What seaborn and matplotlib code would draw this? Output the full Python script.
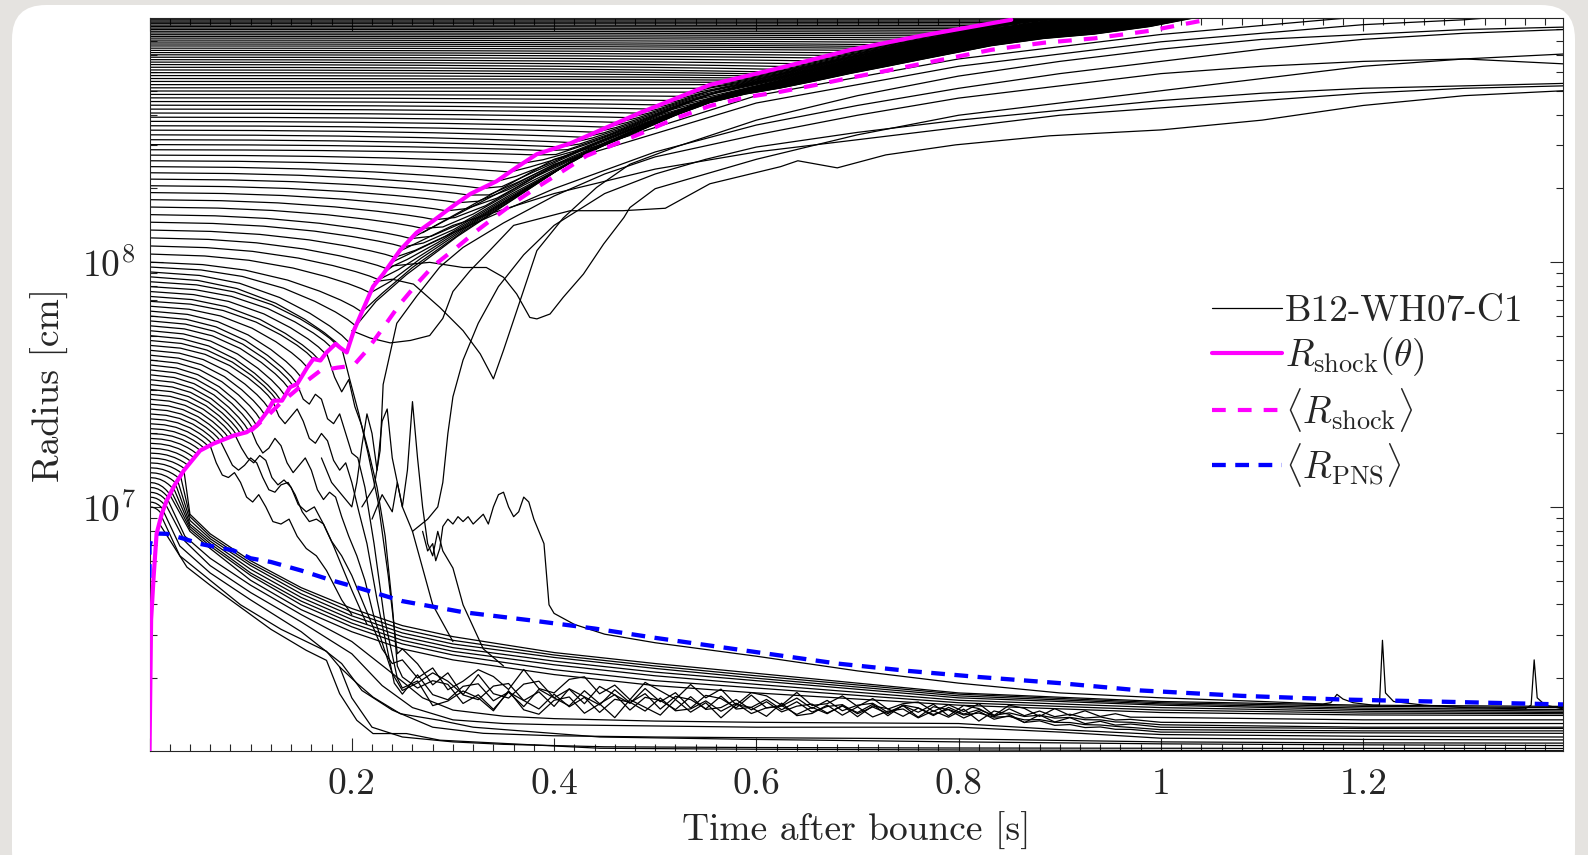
import numpy as np
import pandas as pd
import matplotlib
matplotlib.use("Agg")
import matplotlib.pyplot as plt
import seaborn as sns
from matplotlib.lines import Line2D
from matplotlib.patches import FancyBboxPatch
from matplotlib.ticker import MultipleLocator, LogLocator, FuncFormatter, NullFormatter

# all radii are log10(r / cm), times are seconds after bounce

# shock radius, one direction (solid magenta)
shock_t = [0.0, 0.0016, 0.004, 0.007, 0.012, 0.017, 0.025, 0.034, 0.05, 0.063, 0.083, 0.096, 0.106,
           0.116, 0.1225, 0.131, 0.139, 0.146, 0.156, 0.162, 0.169, 0.175, 0.184, 0.188, 0.195,
           0.202, 0.212, 0.221, 0.231, 0.248, 0.264, 0.281, 0.297, 0.317, 0.343, 0.363, 0.383,
           0.416, 0.485, 0.554, 0.624, 0.693, 0.762, 0.852]
shock_lr = [6.0, 6.54, 6.71, 6.89, 6.97, 7.026, 7.09, 7.149, 7.23, 7.258, 7.291, 7.305, 7.332,
            7.387, 7.434, 7.434, 7.489, 7.502, 7.570, 7.604, 7.598, 7.631, 7.666, 7.652, 7.631,
            7.72, 7.815, 7.90, 7.951, 8.05, 8.12, 8.17, 8.22, 8.278, 8.33, 8.387, 8.441,
            8.485, 8.61, 8.724, 8.794, 8.867, 8.924, 8.99]

# angle-averaged shock radius (dashed magenta)
mean_shock_t = [0.10, 0.117, 0.129, 0.141, 0.156, 0.169, 0.186, 0.2016, 0.2148, 0.2312, 0.2477,
                0.2643, 0.2807, 0.3038, 0.3236, 0.3434, 0.363, 0.383, 0.409, 0.432, 0.485, 0.52,
                0.554, 0.589, 0.624, 0.659, 0.693, 0.728, 0.763, 0.797, 0.832, 0.884, 0.934,
                0.989, 1.045]
mean_shock_lr = [7.31, 7.373, 7.422, 7.463, 7.516, 7.557, 7.569, 7.577, 7.639, 7.733, 7.829,
                 7.911, 7.985, 8.06, 8.128, 8.19, 8.25, 8.305, 8.373, 8.434, 8.524, 8.587,
                 8.638, 8.673, 8.696, 8.724, 8.753, 8.781, 8.81, 8.838, 8.867, 8.896, 8.914,
                 8.945, 8.99]

# angle-averaged proto-neutron-star radius (dashed blue)
pns_t = [0.0, 0.0, 0.003, 0.009, 0.017, 0.034, 0.05, 0.083, 0.10, 0.12, 0.15, 0.18, 0.21, 0.25,
         0.31, 0.38, 0.44, 0.50, 0.56, 0.62, 0.68, 0.75, 0.82, 0.90, 0.98, 1.08, 1.18, 1.29, 1.3975]
pns_lr = [6.71, 6.84, 6.885, 6.891, 6.89, 6.87, 6.849, 6.822, 6.79, 6.775, 6.74, 6.70, 6.665,
          6.615, 6.57, 6.535, 6.503, 6.465, 6.43, 6.395, 6.36, 6.33, 6.305, 6.28, 6.25, 6.228,
          6.213, 6.203, 6.193]

# mass shells: radius at bounce
fan_lr0 = [7.00, 7.02, 7.04, 7.06, 7.08, 7.10, 7.12, 7.14, 7.16, 7.18, 7.20, 7.22, 7.24, 7.26,
           7.28, 7.30, 7.32, 7.34, 7.36, 7.38, 7.40, 7.42, 7.44, 7.46, 7.48, 7.50, 7.52, 7.54,
           7.56, 7.58, 7.60, 7.62, 7.64, 7.66, 7.68, 7.70, 7.72, 7.74, 7.76, 7.78, 7.80, 7.82,
           7.84, 7.86, 7.88, 7.90, 7.92, 7.94, 7.96, 7.98,
           8.000, 8.033, 8.066, 8.099, 8.131, 8.163, 8.194, 8.225, 8.255, 8.284, 8.312, 8.339,
           8.365, 8.390, 8.414, 8.437, 8.459, 8.480, 8.500, 8.520, 8.539, 8.557, 8.575, 8.592,
           8.609, 8.625, 8.641, 8.656, 8.671, 8.685, 8.699, 8.712, 8.725, 8.738, 8.750, 8.762,
           8.774, 8.785, 8.796, 8.807, 8.817, 8.827, 8.837, 8.847, 8.856, 8.865, 8.874, 8.883,
           8.891, 8.899, 8.907, 8.915, 8.922, 8.929, 8.936, 8.943, 8.950, 8.956, 8.962, 8.968,
           8.974, 8.980, 8.985, 8.990]

# when a shell starting at a given radius meets the shock
hit_lr0 = [7.0, 7.1, 7.3, 7.55, 7.8, 8.0, 8.1, 8.2, 8.35, 8.5, 8.65, 8.8, 8.9, 8.99]
hit_time = [0.012, 0.02, 0.05, 0.1, 0.15, 0.21, 0.235, 0.26, 0.32, 0.405, 0.50, 0.61, 0.72, 0.852]

# shape of the infall before the shock (fraction of hit time, fraction of total drop)
fall_x = [0.0, 0.25, 0.45, 0.65, 0.8, 0.9, 0.96, 1.0]
fall_d = [0.0, 0.05, 0.16, 0.36, 0.58, 0.76, 0.89, 1.0]

# shocked shells riding out: place inside the shocked layer (0 = mean shock, 1 = shock)
band_hit = [0.2, 0.3, 0.45, 0.6, 0.85]
band_frac = [0.15, 0.3, 0.5, 0.7, 0.9]
relax_dt = [0.0, 0.02, 0.05, 0.1, 0.2]
relax_w = [1.0, 0.6, 0.3, 0.1, 0.0]

# shells settling onto the proto-neutron star (smooth bundle)
bundle_t = [0.04, 0.06, 0.1, 0.15, 0.2, 0.25, 0.3, 0.4, 0.5, 0.6, 0.8, 1.0, 1.2, 1.3975]
bundle_hit_t = [0.020, 0.022, 0.024, 0.026, 0.028, 0.031, 0.034]
bundle_hit_lr = [7.05, 7.06, 7.075, 7.09, 7.105, 7.12, 7.149]
bundle_lr = [
    [6.90, 6.83, 6.70, 6.58, 6.49, 6.42, 6.375, 6.315, 6.27, 6.24, 6.19, 6.16, 6.15, 6.148],
    [6.91, 6.84, 6.72, 6.60, 6.51, 6.44, 6.395, 6.335, 6.29, 6.26, 6.20, 6.17, 6.158, 6.155],
    [6.92, 6.85, 6.73, 6.615, 6.525, 6.455, 6.41, 6.355, 6.31, 6.275, 6.21, 6.18, 6.165, 6.16],
    [6.93, 6.86, 6.745, 6.63, 6.54, 6.47, 6.425, 6.37, 6.325, 6.29, 6.22, 6.19, 6.172, 6.166],
    [6.945, 6.87, 6.76, 6.645, 6.555, 6.485, 6.44, 6.385, 6.34, 6.30, 6.228, 6.195, 6.178, 6.172],
    [6.96, 6.88, 6.77, 6.66, 6.57, 6.50, 6.455, 6.395, 6.35, 6.31, 6.235, 6.2, 6.185, 6.18],
    [6.97, 6.89, 6.78, 6.67, 6.585, 6.515, 6.47, 6.405, 6.36, 6.32, 6.24, 6.205, 6.19, 6.185],
]

# innermost shells
deep_tracks = [
    ([0.010, 0.037, 0.06, 0.09, 0.12, 0.155, 0.175, 0.188, 0.205, 0.221, 0.254, 0.287, 0.32,
      0.445, 0.6, 0.8, 1.0, 1.3975],
     [6.93, 6.754, 6.68, 6.59, 6.50, 6.414, 6.373, 6.237, 6.128, 6.074, 6.074, 6.047, 6.04,
      6.014, 6.01, 6.007, 6.005, 6.004]),
    ([0.012, 0.03, 0.06, 0.09, 0.13, 0.175, 0.188, 0.205, 0.221, 0.248, 0.287, 0.32, 0.445,
      0.6, 0.8, 1.0, 1.2, 1.3975],
     [6.96, 6.80, 6.70, 6.60, 6.50, 6.41, 6.346, 6.28, 6.223, 6.155, 6.128, 6.10, 6.06, 6.05,
      6.04, 6.032, 6.028, 6.025]),
    ([0.188, 0.2, 0.22, 0.25, 0.3, 0.35, 0.45, 0.6, 0.8, 1.0, 1.3975],
     [6.346, 6.22, 6.1, 6.06, 6.04, 6.03, 6.02, 6.017, 6.015, 6.014, 6.013]),
    ([0.014, 0.03, 0.06, 0.1, 0.15, 0.19, 0.21, 0.24, 0.28, 0.33, 0.4, 0.5, 0.6, 0.8, 1.0,
      1.2, 1.3975],
     [6.98, 6.84, 6.73, 6.62, 6.49, 6.36, 6.25, 6.17, 6.10, 6.075, 6.065, 6.06, 6.057, 6.052,
      6.04, 6.036, 6.035]),
    ([0.016, 0.035, 0.06, 0.1, 0.15, 0.2, 0.23, 0.26, 0.3, 0.35, 0.4, 0.5, 0.6, 0.8, 0.9,
      1.0, 1.2, 1.3975],
     [7.01, 6.86, 6.76, 6.65, 6.53, 6.40, 6.27, 6.18, 6.13, 6.115, 6.11, 6.105, 6.1, 6.1,
      6.08, 6.055, 6.05, 6.048]),
    ([0.018, 0.035, 0.06, 0.1, 0.15, 0.2, 0.24, 0.27, 0.3, 0.35, 0.4, 0.5, 0.6, 0.8, 0.9,
      1.0, 1.2, 1.3975],
     [7.03, 6.88, 6.79, 6.68, 6.56, 6.45, 6.32, 6.22, 6.17, 6.145, 6.135, 6.125, 6.12, 6.115,
      6.09, 6.07, 6.063, 6.06]),
]

# shells falling through the stalled, sloshing shock
sasi_tracks = [
    ([0.07, 0.076, 0.082, 0.088, 0.094, 0.1, 0.106, 0.112, 0.118, 0.124, 0.13, 0.137, 0.144,
      0.151, 0.158, 0.165, 0.172, 0.18, 0.19, 0.2, 0.21, 0.22, 0.23, 0.24],
     [7.27, 7.22, 7.17, 7.15, 7.17, 7.2, 7.18, 7.12, 7.07, 7.06, 7.09, 7.1, 7.05, 6.98, 6.94,
      6.95, 6.93, 6.86, 6.8, 6.72, 6.62, 6.52, 6.42, 6.36]),
    ([0.1, 0.106, 0.112, 0.118, 0.124, 0.13, 0.136, 0.142, 0.148, 0.154, 0.16, 0.166, 0.172,
      0.178, 0.184, 0.19, 0.197, 0.205, 0.213, 0.222, 0.232, 0.24],
     [7.32, 7.26, 7.22, 7.24, 7.28, 7.25, 7.18, 7.14, 7.17, 7.2, 7.15, 7.07, 7.03, 7.06, 7.04,
      6.96, 6.88, 6.8, 6.7, 6.55, 6.42, 6.32]),
    ([0.122, 0.128, 0.134, 0.14, 0.146, 0.152, 0.158, 0.164, 0.17, 0.176, 0.182, 0.188, 0.194,
      0.2, 0.207, 0.215, 0.225, 0.235, 0.242],
     [7.43, 7.37, 7.34, 7.37, 7.4, 7.35, 7.28, 7.26, 7.3, 7.27, 7.19, 7.15, 7.18, 7.1, 6.98,
      6.85, 6.62, 6.42, 6.28]),
    ([0.146, 0.152, 0.158, 0.164, 0.17, 0.176, 0.182, 0.188, 0.194, 0.2, 0.206, 0.213, 0.222,
      0.232, 0.245],
     [7.50, 7.44, 7.42, 7.46, 7.44, 7.36, 7.34, 7.38, 7.3, 7.22, 7.2, 7.08, 6.85, 6.55, 6.3]),
    ([0.175, 0.183, 0.19, 0.197, 0.203, 0.21, 0.217, 0.225, 0.233, 0.24, 0.245],
     [7.63, 7.53, 7.47, 7.52, 7.41, 7.33, 7.22, 7.08, 6.88, 6.6, 6.35]),
    ([0.19, 0.198, 0.207, 0.216, 0.226, 0.236, 0.245],
     [7.65, 7.52, 7.38, 7.22, 7.02, 6.72, 6.4]),
]
# their later, convective part
conv_base_t = [0.25, 0.3, 0.4, 0.5, 0.6, 0.7, 0.8, 0.9, 1.0, 1.2, 1.3975]
conv_base_lr = [
    [6.33, 6.30, 6.28, 6.25, 6.22, 6.20, 6.18, 6.16, 6.14, 6.13, 6.13],
    [6.30, 6.27, 6.25, 6.22, 6.20, 6.185, 6.17, 6.15, 6.12, 6.115, 6.115],
    [6.27, 6.25, 6.22, 6.20, 6.185, 6.175, 6.165, 6.14, 6.11, 6.10, 6.10],
    [6.28, 6.21, 6.19, 6.18, 6.17, 6.163, 6.155, 6.13, 6.10, 6.095, 6.095],
    [6.33, 6.23, 6.20, 6.19, 6.175, 6.168, 6.16, 6.12, 6.09, 6.085, 6.085],
    [6.38, 6.26, 6.23, 6.21, 6.19, 6.175, 6.16, 6.11, 6.08, 6.077, 6.075],
]
conv_t = [0.25, 0.265, 0.28, 0.295, 0.31, 0.325, 0.34, 0.355, 0.37, 0.385, 0.40, 0.415, 0.43,
          0.445, 0.46, 0.475, 0.49, 0.505, 0.52, 0.535, 0.55, 0.565, 0.58, 0.595, 0.61, 0.625,
          0.64, 0.655, 0.67, 0.685, 0.70, 0.715, 0.73, 0.745, 0.76, 0.775, 0.79, 0.805, 0.82,
          0.835, 0.85, 0.865, 0.88, 0.895, 0.91, 0.925, 0.94, 0.955, 0.97]
conv_wiggle = [0.045, -0.02, 0.03, -0.05, -0.01, 0.04, 0.015, -0.035, 0.05, -0.025, -0.04,
               0.02, 0.035, -0.03, 0.01, -0.045, 0.03, 0.0, -0.03, 0.035, -0.015, 0.025,
               -0.035, 0.02, 0.01, -0.025, 0.03, -0.02, -0.01, 0.025, -0.015, 0.02, -0.02,
               0.005, 0.015, -0.02, 0.01, -0.015, 0.02, -0.025, 0.02, 0.01, -0.02, 0.015,
               -0.01, 0.012, -0.008, 0.006, -0.005, 0.004, -0.004, 0.003, -0.002, 0.002,
               -0.002, 0.001, 0.0, 0.0, 0.0, 0.0]
conv_shift = [0, 3, 7, 1, 9, 5]

# spiky shells near 1e7 cm, one later sitting just under the PNS radius
spiky_tracks = [
    ([0.27, 0.275, 0.28, 0.283, 0.287, 0.29, 0.295, 0.30, 0.305, 0.31, 0.315, 0.32, 0.325, 0.33,
      0.335, 0.34, 0.345, 0.35, 0.355, 0.36, 0.365, 0.37, 0.375, 0.38, 0.385, 0.39, 0.395, 0.40,
      0.42, 0.45, 0.5, 0.6, 0.7, 0.8, 0.9, 1.0, 1.1, 1.16, 1.168, 1.174, 1.18, 1.19, 1.21,
      1.216, 1.219, 1.222, 1.23, 1.26, 1.3, 1.36, 1.366, 1.369, 1.372, 1.38, 1.3975],
     [6.9, 6.82, 6.85, 6.78, 6.83, 6.92, 6.95, 6.93, 6.96, 6.94, 6.96, 6.93, 6.95, 6.97, 6.93,
      7.0, 7.05, 7.06, 7.0, 6.96, 6.98, 7.04, 7.02, 6.95, 6.9, 6.85, 6.6, 6.565, 6.52, 6.48,
      6.445, 6.39, 6.33, 6.28, 6.24, 6.22, 6.205, 6.195, 6.2, 6.234, 6.215, 6.2, 6.19, 6.19,
      6.455, 6.24, 6.205, 6.19, 6.18, 6.175, 6.19, 6.375, 6.22, 6.19, 6.175]),
    ([0.22, 0.23, 0.24, 0.245, 0.25, 0.255, 0.26, 0.265, 0.27, 0.275, 0.28, 0.285, 0.29, 0.3,
      0.31, 0.33, 0.35],
     [6.95, 7.05, 6.98, 7.1, 7.0, 7.15, 7.43, 7.2, 7.0, 6.85, 6.8, 6.9, 6.82, 6.75, 6.6, 6.42,
      6.35]),
    ([0.17, 0.18, 0.19, 0.2, 0.205, 0.21, 0.215, 0.22, 0.225, 0.23, 0.235, 0.24, 0.25, 0.26,
      0.27, 0.28, 0.3],
     [7.2, 7.1, 7.05, 7.0, 7.1, 7.25, 7.38, 7.3, 7.15, 7.35, 7.4, 7.2, 7.0, 6.9, 6.75, 6.6,
      6.45]),
    ([0.06, 0.066, 0.072, 0.078, 0.084, 0.09, 0.096, 0.102, 0.108, 0.115, 0.122, 0.13, 0.138,
      0.146, 0.155, 0.165, 0.175, 0.19, 0.2],
     [7.25, 7.18, 7.13, 7.12, 7.14, 7.1, 7.04, 7.02, 7.05, 7.0, 6.94, 6.93, 6.95, 6.88, 6.83,
      6.8, 6.74, 6.62, 6.56]),
    ([0.085, 0.091, 0.097, 0.103, 0.109, 0.115, 0.121, 0.127, 0.133, 0.14, 0.147, 0.155, 0.163,
      0.172, 0.182, 0.192, 0.2, 0.215],
     [7.29, 7.24, 7.2, 7.18, 7.21, 7.19, 7.12, 7.09, 7.11, 7.08, 7.01, 6.98, 7.0, 6.93, 6.84,
      6.74, 6.66, 6.52]),
]

# shells that dip back and are then blown out
ejecta_tracks = [
    ([0.222, 0.24, 0.261, 0.287, 0.31, 0.327, 0.34, 0.35, 0.363, 0.383, 0.409, 0.442, 0.475,
      0.52, 0.6, 0.7, 0.8, 0.9, 1.0, 1.1, 1.2, 1.3, 1.3975],
     [7.92, 7.93, 7.91, 7.815, 7.72, 7.625, 7.523, 7.64, 7.80, 8.047, 8.18, 8.305, 8.40, 8.47,
      8.58, 8.68, 8.76, 8.82, 8.87, 8.91, 8.93, 8.95, 8.96]),
    ([0.233, 0.241, 0.277, 0.31, 0.333, 0.35, 0.363, 0.376, 0.383, 0.396, 0.409, 0.429, 0.449,
      0.469, 0.475, 0.5, 0.55, 0.6, 0.7, 0.8, 0.9, 1.0, 1.1, 1.2, 1.3, 1.3975],
     [7.96, 7.985, 7.999, 7.978, 7.978, 7.938, 7.87, 7.774, 7.768, 7.788, 7.856, 7.951, 8.074,
      8.182, 8.223, 8.30, 8.36, 8.42, 8.52, 8.6, 8.65, 8.7, 8.75, 8.8, 8.83, 8.85]),
    ([0.2, 0.218, 0.238, 0.258, 0.277, 0.29, 0.30, 0.317, 0.337, 0.36, 0.416, 0.468, 0.51,
      0.554, 0.624, 0.641, 0.68, 0.728, 0.797, 0.89, 1.0, 1.1, 1.2, 1.3, 1.3975],
     [7.72, 7.69, 7.67, 7.68, 7.70, 7.77, 7.88, 7.965, 8.05, 8.15, 8.21, 8.21, 8.22, 8.32,
      8.39, 8.414, 8.385, 8.438, 8.479, 8.516, 8.54, 8.58, 8.64, 8.68, 8.70]),
    ([0.26, 0.275, 0.285, 0.29, 0.295, 0.30, 0.31, 0.325, 0.345, 0.37, 0.4, 0.45, 0.5, 0.55,
      0.6, 0.7, 0.8, 0.9, 1.0, 1.1, 1.2, 1.3, 1.3975],
     [6.9, 6.95, 7.0, 7.1, 7.3, 7.45, 7.6, 7.75, 7.9, 8.03, 8.15, 8.28, 8.36, 8.42, 8.47,
      8.53, 8.58, 8.62, 8.66, 8.69, 8.71, 8.72, 8.73]),
    ([0.21, 0.222, 0.228, 0.231, 0.2445, 0.264, 0.287, 0.31, 0.35, 0.4, 0.45, 0.5, 0.6, 0.7,
      0.8, 0.9, 1.0, 1.1, 1.2, 1.3, 1.3975],
     [7.0, 7.08, 7.23, 7.5, 7.75, 7.86, 7.98, 8.06, 8.16, 8.27, 8.36, 8.43, 8.52, 8.6, 8.67,
      8.72, 8.77, 8.8, 8.82, 8.83, 8.81]),
    ([0.24, 0.3, 0.4, 0.5, 0.6, 0.7, 0.8, 0.9, 1.0, 1.1, 1.2, 1.3, 1.3975],
     [8.0, 8.12, 8.3, 8.45, 8.56, 8.64, 8.71, 8.77, 8.82, 8.87, 8.91, 8.935, 8.95]),
    ([0.25, 0.3, 0.4, 0.5, 0.6, 0.7, 0.8, 0.9, 1.0, 1.1, 1.2, 1.3, 1.3975],
     [8.05, 8.15, 8.28, 8.38, 8.45, 8.5, 8.55, 8.6, 8.63, 8.66, 8.69, 8.71, 8.72]),
    ([0.26, 0.4, 0.6, 0.8, 1.0, 1.2, 1.3, 1.36],
     [8.1, 8.4, 8.65, 8.8, 8.9, 8.97, 8.99, 9.01]),
    ([0.27, 0.4, 0.6, 0.8, 1.0, 1.15, 1.22],
     [8.12, 8.42, 8.68, 8.83, 8.93, 8.985, 9.01]),
]

# ---------------------------------------------------------------------------
rows = []
def add(t, lr):
    uid = rows[-1][0] + 1 if rows else 0
    for a, b in zip(t, lr):
        rows.append((uid, a, 10.0 ** b))

for lr0 in fan_lr0:
    th = float(np.interp(lr0, hit_lr0, hit_time))
    lh = float(np.interp(th, shock_t, shock_lr))
    t_pre = [x * th for x in fall_x]
    lr_pre = [lr0 + (lh - lr0) * d for d in fall_d]
    if th >= 0.2:
        frac = float(np.interp(th, band_hit, band_frac))
        ts = [th + d for d in relax_dt[1:]] + [t for t in mean_shock_t if t > th + relax_dt[-1]]
        ts = np.array([t for t in ts if t <= mean_shock_t[-1]])
        tc = np.minimum(ts, shock_t[-1])
        gap = np.interp(tc, shock_t, shock_lr) - np.interp(tc, mean_shock_t, mean_shock_lr)
        f = frac + (1 - frac) * np.interp(ts - th, relax_dt, relax_w)
        lr_post = np.interp(ts, mean_shock_t, mean_shock_lr) + f * gap
        add(t_pre + list(ts), lr_pre + list(lr_post))
    else:
        add(t_pre, lr_pre)

for th, lh, lrs in zip(bundle_hit_t, bundle_hit_lr, bundle_lr):
    add([th] + bundle_t, [lh] + lrs)

for t, lr in deep_tracks + spiky_tracks + ejecta_tracks:
    add(t, lr)

for (t, lr), base, k in zip(sasi_tracks, conv_base_lr, conv_shift):
    wig = conv_wiggle[k:k + len(conv_t)]
    lr_c = np.interp(conv_t, conv_base_t, base) + np.array(wig)
    late_t = [x for x in conv_base_t if x > conv_t[-1]]
    late_lr = [y for x, y in zip(conv_base_t, base) if x > conv_t[-1]]
    add(list(t) + conv_t + late_t, list(lr) + list(lr_c) + late_lr)

df = pd.DataFrame(rows, columns=["shell", "t", "r"])

# ---------------------------------------------------------------------------
sns.set_style("ticks")
plt.rcParams["font.family"] = ["cmr10", "DejaVu Serif"]
plt.rcParams["mathtext.fontset"] = "cm"
plt.rcParams["axes.formatter.use_mathtext"] = True
plt.rcParams["axes.unicode_minus"] = False

fig = plt.figure(figsize=(15.88, 8.55), dpi=100)
fig.patch.set_facecolor("#e5e3e0")
fig.add_artist(FancyBboxPatch((12, -30), 1563, 880, boxstyle="round,pad=0,rounding_size=34",
                              transform=None, fc="white", ec="none", zorder=-10))
ax = fig.add_axes([149.5 / 1588, 1 - 750.7 / 855, (1563 - 149.5) / 1588, (750.7 - 18.3) / 855])

sns.lineplot(data=df, x="t", y="r", units="shell", estimator=None, sort=False,
             color="black", lw=0.9, ax=ax, legend=False, solid_joinstyle="round")

ax.plot(pns_t, 10.0 ** np.array(pns_lr), color="#0000ff", lw=3.1, dashes=(3.2, 2.2), zorder=5)
ax.plot(mean_shock_t, 10.0 ** np.array(mean_shock_lr), color="#ff00ff", lw=3.0,
        dashes=(3.3, 2.9), zorder=6)
ax.plot(shock_t, 10.0 ** np.array(shock_lr), color="#ff00ff", lw=3.0, zorder=7)

ax.set_yscale("log")
ax.set_xlim(0, 1.3975)
ax.set_ylim(10 ** 6.004, 10 ** 8.996)

ax.xaxis.set_major_locator(MultipleLocator(0.2))
ax.xaxis.set_minor_locator(MultipleLocator(0.02))
ax.xaxis.set_major_formatter(FuncFormatter(lambda v, p: "" if v < 0.01 else f"{v:g}"))
ax.yaxis.set_major_locator(LogLocator(base=10))
ax.yaxis.set_minor_locator(LogLocator(base=10, subs=np.arange(2, 10)))
ax.yaxis.set_minor_formatter(NullFormatter())
ax.tick_params(which="both", direction="in", top=True, right=True, width=0.8,
               colors="#262626", labelsize=27)
ax.tick_params(which="major", length=9.5)
ax.tick_params(which="minor", length=5)
ax.tick_params(axis="x", pad=12)
ax.tick_params(axis="y", pad=10)
for s in ax.spines.values():
    s.set_linewidth(0.8)
    s.set_color("#262626")

ax.set_xlabel("Time after bounce [s]", fontsize=27, color="#262626")
ax.set_ylabel("Radius [cm]", fontsize=27, color="#262626")
ax.xaxis.set_label_coords(0.5, -0.083)
ax.yaxis.set_label_coords(-0.057, 0.5)

handles = [
    Line2D([], [], color="black", lw=0.9),
    Line2D([], [], color="#ff00ff", lw=3.0),
    Line2D([], [], color="#ff00ff", lw=3.0, dashes=(3.3, 2.9)),
    Line2D([], [], color="#0000ff", lw=3.1, dashes=(3.2, 2.2)),
]
labels = ["B12-WH07-C1", r"$R_{\rm shock}(\theta)$", r"$\langle R_{\rm shock}\rangle$",
          r"$\langle R_{\rm PNS}\rangle$"]
ax.legend(handles, labels, loc="center left", bbox_to_anchor=(0.752, 0.49), frameon=False,
          fontsize=27, handlelength=1.85, handletextpad=0.08, labelspacing=0.2,
          borderpad=0, borderaxespad=0)

fig.savefig("out.png", dpi=100, facecolor=fig.get_facecolor())
